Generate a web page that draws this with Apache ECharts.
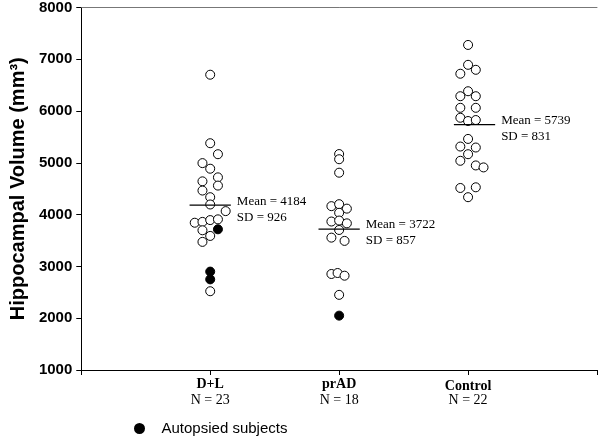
<!DOCTYPE html>
<html>
<head>
<meta charset="utf-8">
<script src="https://cdn.jsdelivr.net/npm/echarts@6/dist/echarts.min.js"></script>
<style>html,body{margin:0;padding:0;background:#fff;}#chart{width:600px;height:438px;}</style>
</head>
<body>
<div id="chart"></div>
<script>
// ---- data ----
const groups = ['D+L', 'prAD', 'Control'];
const groupN = [23, 18, 22];
const means = [4184, 3722, 5739];
const sds = [926, 857, 831];

// open circles (values) and horizontal swarm offsets (in circle widths)
const dlOpen = [6702, 5379, 5167, 4995, 4887, 4720, 4643, 4561, 4465, 4337, 4196, 4068, 3844, 3860, 3895, 3909, 3698, 3589, 3474, 2521];
const dlOpenOff = [0, 0, 1, -1, 0, 1, -1, 1, -1, 0, 0, 2, -2, -1, 0, 1, -1, 0, -1, 0];
const dlFilled = [3717, 2900, 2750];
const dlFilledOff = [1, 0, 0];

const prOpen = [5170, 5070, 4810, 4164, 4202, 4116, 4036, 3867, 3886, 3832, 3704, 3556, 3493, 2854, 2873, 2821, 2451];
const prOpenOff = [0, 0, 0, -1, 0, 1, 0, -1, 0, 1, 0, -1, 0.7, -1, -0.2, 0.7, 0];
const prFilled = [2050];
const prFilledOff = [0];

const ctOpen = [7277, 6893, 6797, 6721, 6383, 6287, 6287, 6063, 6063, 5871, 5808, 5827, 5462, 5315, 5296, 5167, 5040, 4950, 4912, 4515, 4528, 4337];
const ctOpenOff = [0, 0, 1, -1, 0, -1, 1, -1, 1, -1, 0, 1, 0, -1, 1, 0, -1, 1, 2, -1, 1, 0];
const ctFilled = [];
const ctFilledOff = [];

// ---- build ----
const UNIT = 0.06;
const openSets = [[dlOpen, dlOpenOff], [prOpen, prOpenOff], [ctOpen, ctOpenOff]];
const filledSets = [[dlFilled, dlFilledOff], [prFilled, prFilledOff], [ctFilled, ctFilledOff]];
function build(sets) {
  const out = [];
  sets.forEach(function (s, g) {
    s[0].forEach(function (v, i) { out.push([g + 1 + s[1][i] * UNIT, v]); });
  });
  return out;
}
const openData = build(openSets);
const filledData = build(filledSets);

const HALF = 0.16;
const lineShift = [0, 0, 0.05];
const meanSeries = means.map(function (m, g) {
  const c = g + 1 + lineShift[g];
  return {
    type: 'line', silent: true, symbol: 'none', z: 5,
    data: [[c - HALF, m], [c + HALF, m]],
    lineStyle: { color: '#000', width: 1.3, opacity: 1 }
  };
});
const meanLabels = {
  type: 'scatter', silent: true, symbolSize: 0, z: 6,
  data: means.map(function (m, g) { return [g + 1 + lineShift[g] + HALF, m, g]; }),
  itemStyle: { opacity: 1 },
  label: {
    show: true, position: 'right', distance: 6, offset: [0, 4],
    fontFamily: 'Liberation Serif', fontSize: 13, color: '#000', lineHeight: 16,
    formatter: function (p) { const g = p.data[2]; return 'Mean = ' + means[g] + '\nSD = ' + sds[g]; }
  }
};

const chart = echarts.init(document.getElementById('chart'), null, { renderer: 'canvas' });
chart.setOption({
  animation: false,
  backgroundColor: '#fff',
  grid: { left: 77, right: 3, top: 5, bottom: 68, containLabel: false },
  legend: {
    data: ['Autopsied subjects'], left: 129, top: 416, icon: 'circle',
    itemWidth: 9, itemHeight: 9,
    formatter: function (n) { return '   ' + n; },
    itemStyle: { opacity: 1, color: '#000' },
    textStyle: { fontFamily: 'Liberation Sans', fontSize: 15, color: '#000' }
  },
  xAxis: [{
    type: 'value', min: 0, max: 4, interval: 1, position: 'bottom',
    axisLine: { lineStyle: { color: '#000', width: 1 } },
    axisTick: { show: true, length: 5, lineStyle: { color: '#000' } },
    splitLine: { show: false },
    axisLabel: {
      margin: 6, color: '#000',
      formatter: function (v) {
        const g = Math.round(v) - 1;
        if (g < 0 || g >= groups.length) return '';
        const t = g === 2 ? 'c' : 'a';
        return '{' + t + '|' + groups[g] + '}\n{n' + t + '|N = ' + groupN[g] + '}';
      },
      rich: {
        a: { fontFamily: 'Liberation Serif', fontWeight: 'bold', fontSize: 14, lineHeight: 16, color: '#000' },
        na: { fontFamily: 'Liberation Serif', fontSize: 14, lineHeight: 16, color: '#000' },
        c: { fontFamily: 'Liberation Serif', fontWeight: 'bold', fontSize: 14, lineHeight: 16, color: '#000', padding: [5, 0, 0, 0] },
        nc: { fontFamily: 'Liberation Serif', fontSize: 14, lineHeight: 17, color: '#000' }
      }
    }
  }, {
    type: 'value', min: 0, max: 4, position: 'top',
    axisLine: { lineStyle: { color: '#777', width: 1 } },
    axisTick: { show: false }, axisLabel: { show: false }, splitLine: { show: false }
  }],
  yAxis: {
    type: 'value', min: 1000, max: 8000, interval: 1000,
    name: 'Hippocampal Volume (mm³)', nameLocation: 'middle', nameGap: 43,
    nameTextStyle: { fontFamily: 'Liberation Sans', fontWeight: 'bold', fontSize: 20, color: '#000' },
    axisLine: { show: true, lineStyle: { color: '#000', width: 1 } },
    axisTick: { show: true, length: 5, lineStyle: { color: '#000' } },
    splitLine: { show: false },
    axisLabel: {
      margin: 9, fontFamily: 'Liberation Sans', fontWeight: 'bold', fontSize: 15, color: '#000',
      formatter: function (v) { return String(v); }
    }
  },
  series: [
    {
      name: 'Subjects', type: 'scatter', silent: true, symbol: 'circle', symbolSize: 9, z: 3,
      data: openData,
      itemStyle: { color: '#fff', borderColor: '#000', borderWidth: 1, opacity: 1 }
    },
    {
      name: 'Autopsied subjects', type: 'scatter', silent: true, symbol: 'circle', symbolSize: 9, z: 4,
      data: filledData,
      itemStyle: { color: '#000', borderColor: '#000', borderWidth: 1, opacity: 1 }
    }
  ].concat(meanSeries, [meanLabels])
});
</script>
</body>
</html>
